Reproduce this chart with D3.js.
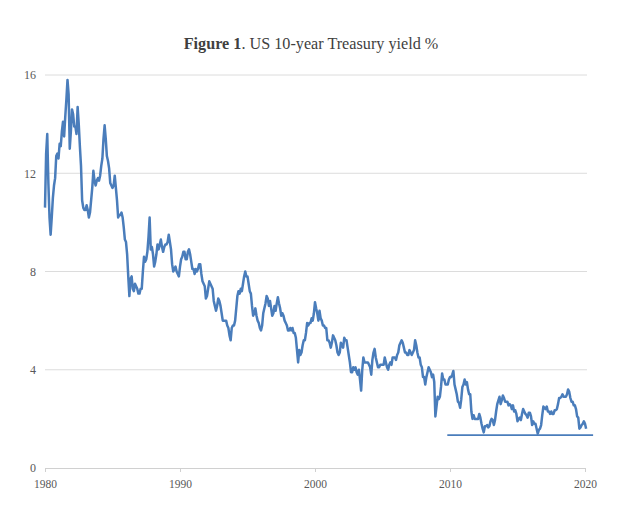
<!DOCTYPE html>
<html>
<meta charset="utf-8">
<style>
  body { margin: 0; background: #fff; }
  svg text { font-family: "Liberation Serif", "Times New Roman", serif; }
</style>
<body>
<div id="chart"></div>
<script src="https://d3js.org/d3.v7.min.js"></script>
<script>
// monthly 10-year yield, %, Jan of the first year onwards
var yields1980s = [
  10.6, 12.8, 13.6, 11.6, 10.2, 9.5, 10.2, 11.0, 11.5, 11.8, 12.7, 12.8,
  12.6, 13.2, 13.1, 13.7, 14.1, 13.5, 14.3, 15.0, 15.8, 15.2, 13.0, 13.7,
  14.6, 14.4, 13.9, 13.9, 13.6, 14.7, 14.0, 13.1, 12.3, 10.9, 10.6, 10.5,
  10.5, 10.7, 10.5, 10.2, 10.4, 10.9, 11.4, 12.1, 11.7, 11.5, 11.7, 11.8,
  11.7, 11.9, 12.3, 12.6, 13.4, 13.95, 13.4, 12.7, 12.5, 12.2, 11.6, 11.5,
  11.4, 11.5, 11.9, 11.4, 10.9, 10.2, 10.3, 10.3, 10.4, 10.2, 9.8, 9.3,
  9.2, 8.7, 7.8, 7.0, 7.7, 7.8, 7.3, 7.2, 7.5, 7.4, 7.3, 7.1,
  7.1, 7.3, 7.3, 8.0, 8.6, 8.4, 8.5, 8.8, 9.4, 10.2, 8.9, 9.0,
  8.7, 8.2, 8.4, 8.7, 9.1, 8.9, 9.1, 9.3, 9.0, 8.8, 9.0, 9.1,
  9.1, 9.2, 9.5, 9.2, 8.9, 8.3, 8.0, 8.1, 8.2, 8.0, 7.9, 7.8
];
var yields1990s = [
  8.2, 8.5, 8.6, 8.8, 8.8, 8.5, 8.5, 8.8, 8.9, 8.7, 8.4, 8.1,
  8.1, 7.9, 8.1, 8.0, 8.1, 8.3, 8.3, 7.9, 7.6, 7.5, 7.4, 6.9,
  7.0, 7.3, 7.6, 7.5, 7.4, 7.3, 6.8, 6.6, 6.4, 6.6, 6.9, 6.8,
  6.6, 6.3, 6.0, 6.0, 6.0, 6.0, 5.8, 5.7, 5.4, 5.2, 5.7, 5.8,
  5.8, 6.0, 6.5, 7.0, 7.2, 7.1, 7.3, 7.2, 7.5, 7.8, 8.0, 7.8,
  7.8, 7.5, 7.2, 7.1, 6.6, 6.2, 6.3, 6.5, 6.2, 6.0, 5.9, 5.7,
  5.6, 5.8, 6.3, 6.5, 6.7, 7.0, 6.9, 6.6, 6.8, 6.5, 6.2, 6.3,
  6.6, 6.4, 6.7, 6.95, 6.7, 6.5, 6.2, 6.3, 6.2, 6.0, 5.9, 5.8,
  5.6, 5.6, 5.7, 5.6, 5.7, 5.5, 5.5, 5.3, 4.8, 4.3, 4.8, 4.6,
  4.7, 5.0, 5.2, 5.2, 5.5, 5.9, 5.8, 5.9, 5.9, 6.1, 6.0, 6.3
];
var yields2000s = [
  6.75, 6.5, 6.3, 6.0, 6.4, 6.1, 6.0, 5.8, 5.8, 5.7, 5.7, 5.2,
  5.2, 5.1, 4.9, 5.1, 5.4, 5.3, 5.2, 5.0, 4.7, 4.6, 4.7, 5.1,
  5.0, 4.9, 5.3, 5.2, 5.2, 4.9, 4.6, 4.3, 3.9, 3.9, 4.1, 4.0,
  4.1, 3.9, 3.8, 4.0, 3.6, 3.15, 4.0, 4.5, 4.3, 4.3, 4.3, 4.3,
  4.2, 4.1, 3.8, 4.4, 4.7, 4.85, 4.5, 4.3, 4.1, 4.1, 4.2, 4.2,
  4.2, 4.2, 4.5, 4.3, 4.1, 4.0, 4.2, 4.3, 4.2, 4.5, 4.5, 4.5,
  4.4, 4.6, 4.7, 5.0, 5.1, 5.2, 5.1, 4.9, 4.7, 4.7, 4.6, 4.6,
  4.8, 4.7, 4.6, 4.7, 4.8, 5.2, 5.0, 4.7, 4.5, 4.5, 4.2, 4.1,
  3.7, 3.7, 3.4, 3.7, 3.9, 4.1, 4.0, 3.9, 3.7, 3.8, 3.5, 2.1,
  2.5, 2.9, 2.8, 2.9, 3.3, 3.85, 3.6, 3.6, 3.4, 3.4, 3.4, 3.6
];
var yields2010s = [
  3.7, 3.7, 3.8, 3.95, 3.4, 3.2, 3.0, 2.7, 2.65, 2.45, 2.8, 3.3,
  3.4, 3.6, 3.4, 3.5, 3.2, 3.0, 3.0, 2.3, 2.0, 2.15, 2.0, 2.0,
  2.0, 2.0, 2.2, 2.05, 1.8, 1.6, 1.45, 1.7, 1.7, 1.75, 1.65, 1.7,
  1.9, 2.0, 1.95, 1.75, 1.95, 2.3, 2.6, 2.75, 2.9, 2.6, 2.75, 2.95,
  2.85, 2.7, 2.7, 2.7, 2.55, 2.6, 2.55, 2.4, 2.55, 2.3, 2.35, 2.2,
  1.9, 2.0, 2.05, 1.95, 2.2, 2.4, 2.3, 2.2, 2.15, 2.05, 2.25, 2.25,
  2.1, 1.75, 1.9, 1.8, 1.8, 1.6, 1.4, 1.55, 1.6, 1.75, 2.15, 2.5,
  2.45, 2.4, 2.5, 2.3, 2.3, 2.2, 2.3, 2.2, 2.2, 2.35, 2.35, 2.4,
  2.6, 2.85, 2.85, 2.9, 3.0, 2.9, 2.9, 2.9, 3.0, 3.2, 3.1, 2.85,
  2.7, 2.7, 2.55, 2.55, 2.4, 2.1, 2.05, 1.6, 1.65, 1.75, 1.8, 1.9
];
var yields2020 = [1.8, 1.6];

var startYear = 1980;
var yearTicks = [1980, 1990, 2000, 2010, 2020];
var valueTicks = [0, 4, 8, 12, 16];

// flat reference line at the recent low
var floorLevel = 1.34;
var floorFrom = 2009.8;
var floorTo = 2020.6;

var W = 620, H = 510;
var plotLeft = 45, plotRight = 585, plotTop = 75, plotBottom = 468;

var series = [].concat(yields1980s, yields1990s, yields2000s, yields2010s, yields2020)
  .map(function (v, i) { return { t: startYear + i / 12, v: v }; });

var svg = d3.select("#chart").append("svg")
  .attr("width", W).attr("height", H);

var x = d3.scaleLinear().domain([1980, 2020]).range([plotLeft, plotRight]);
var y = d3.scaleLinear().domain([0, 16]).range([plotBottom, plotTop]);

// title
var title = svg.append("text")
  .attr("x", 311).attr("y", 49)
  .attr("text-anchor", "middle")
  .style("font-size", "16.2px")
  .style("fill", "#3f3f3f");
title.append("tspan").style("font-weight", "bold").text("Figure 1");
title.append("tspan").text(". US 10-year Treasury yield %");

// gridlines
svg.append("g")
  .selectAll("line")
  .data(valueTicks.filter(function (d) { return d > 0; }))
  .enter().append("line")
  .attr("x1", plotLeft).attr("x2", plotRight + 2)
  .attr("y1", function (d) { return y(d); })
  .attr("y2", function (d) { return y(d); })
  .style("stroke", "#dcdcdc")
  .style("stroke-width", 1);

// y axis labels
var yAxis = svg.append("g")
  .attr("transform", "translate(" + (plotLeft - 9) + ",0)")
  .call(d3.axisLeft(y).tickValues(valueTicks).tickSize(0).tickPadding(0));
yAxis.select(".domain").remove();
yAxis.selectAll("text")
  .style("font-family", "Liberation Serif, serif")
  .style("font-size", "12px")
  .style("fill", "#595959");

// x axis
var xAxis = svg.append("g")
  .attr("transform", "translate(0," + plotBottom + ")")
  .call(d3.axisBottom(x).tickValues(yearTicks).tickFormat(d3.format("d"))
    .tickSize(4).tickSizeOuter(0).tickPadding(8));
xAxis.select(".domain").style("stroke", "#d0d0d0");
xAxis.selectAll(".tick line").style("stroke", "#d0d0d0");
xAxis.selectAll("text")
  .style("font-family", "Liberation Serif, serif")
  .style("font-size", "11.5px")
  .style("fill", "#595959");

// the yield line
var line = d3.line()
  .x(function (d) { return x(d.t); })
  .y(function (d) { return y(d.v); });

svg.append("path")
  .datum(series)
  .attr("d", line)
  .style("fill", "none")
  .style("stroke", "#4a7dbb")
  .style("stroke-width", 2.5)
  .style("stroke-linejoin", "round");

// reference line
svg.append("line")
  .attr("x1", x(floorFrom)).attr("x2", x(floorTo))
  .attr("y1", y(floorLevel)).attr("y2", y(floorLevel))
  .style("stroke", "#4a7dbb")
  .style("stroke-width", 1.6);
</script>
</body>
</html>
